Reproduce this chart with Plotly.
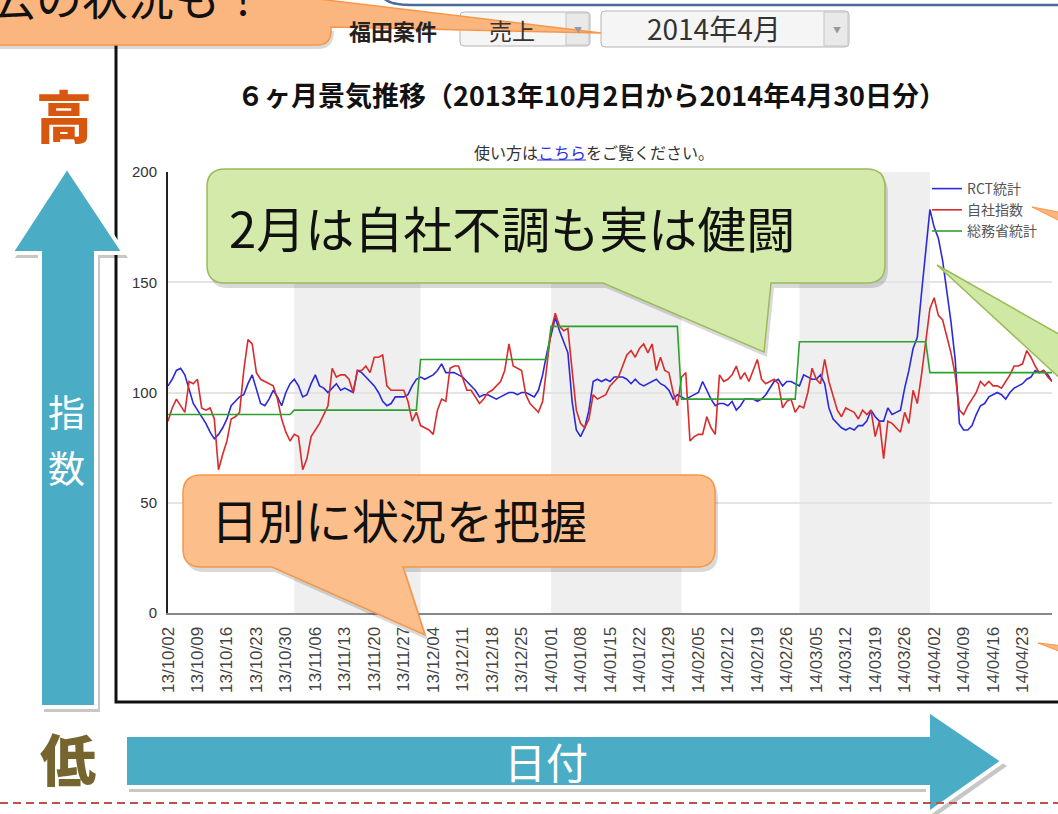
import plotly.graph_objects as go
import pandas as pd

# ---------------- data ----------------
dates = pd.date_range("2013-10-02", "2014-04-30", freq="D")

rct_values = [
    103, 106, 110, 111, 108, 101, 95, 92, 89, 86,
    82, 79, 81, 84, 88, 94, 96, 98, 99, 104,
    108, 101, 95, 94, 97, 101, 98, 94, 100, 104,
    106, 103, 98, 99, 104, 108, 103, 102, 100, 102,
    104, 101, 102, 101, 100, 110, 109, 107, 105, 103,
    100, 96, 94, 95, 98, 98, 98, 99, 103, 106,
    107, 106, 107, 108, 110, 113, 109, 109, 109, 108,
    107, 105, 103, 101, 98, 99, 99, 98, 97, 98,
    99, 100, 100, 99, 100, 100, 99, 98, 101, 108,
    118, 126, 134, 128, 123, 118, 96, 83, 80, 84,
    92, 105, 106, 105, 106, 105, 107, 107, 107, 106,
    104, 106, 104, 103, 104, 105, 106, 104, 103, 101,
    97, 99, 98, 97, 98, 99, 100, 105, 101, 97,
    94, 95, 95, 94, 96, 92, 94, 97, 97, 97,
    96, 97, 99, 102, 105, 106, 103, 105, 105, 104,
    103, 108, 107, 106, 106, 108, 104, 93, 88, 86,
    84, 83, 84, 83, 85, 85, 87, 92, 89, 87,
    87, 93, 90, 91, 92, 102, 110, 120, 125, 145,
    165, 183, 175, 170, 160, 146, 132, 115, 86, 83,
    83, 85, 90, 94, 95, 98, 99, 100, 99, 97,
    100, 102, 103, 104, 106, 107, 110, 109, 110, 108,
    105,
]

jisha_values = [
    87, 93, 97, 94, 91, 105, 104, 106, 93, 92,
    93, 88, 65, 72, 78, 88, 89, 91, 110, 124,
    122, 109, 106, 105, 104, 103, 97, 88, 82, 78,
    81, 80, 65, 70, 80, 83, 86, 90, 94, 111,
    107, 108, 108, 106, 100, 110, 110, 112, 109, 116,
    116, 117, 103, 101, 101, 101, 101, 96, 87, 91,
    85, 84, 83, 81, 92, 97, 96, 111, 112, 112,
    106, 101, 101, 98, 95, 97, 100, 101, 103, 105,
    110, 122, 112, 111, 110, 99, 95, 93, 91, 96,
    112, 128, 136, 130, 128, 129, 110, 92, 86, 84,
    88, 99, 97, 98, 99, 103, 105, 107, 112, 117,
    119, 116, 120, 122, 118, 122, 110, 116, 110, 109,
    100, 94, 107, 109, 78, 80, 81, 81, 89, 84,
    81, 108, 105, 106, 108, 112, 106, 109, 105, 110,
    115, 106, 104, 105, 106, 104, 93, 96, 97, 91,
    94, 93, 100, 111, 106, 104, 115, 105, 98, 92,
    89, 93, 92, 91, 88, 92, 90, 92, 80, 87,
    70, 87, 86, 84, 82, 91, 86, 101, 95, 108,
    124, 138, 143, 135, 133, 126, 118, 108, 92, 90,
    94, 97, 100, 105, 103, 105, 103, 103, 102, 105,
    108, 112, 112, 113, 119, 116, 112, 109, 110, 107,
    105,
]

soumu_months = ["2013-10", "2013-11", "2013-12", "2014-01", "2014-02", "2014-03", "2014-04"]
soumu_monthly = [90, 92, 115, 130, 97, 123, 109]
soumu_lookup = dict(zip(soumu_months, soumu_monthly))
soumu_values = [soumu_lookup[d.strftime("%Y-%m")] for d in dates]

series_names = ["RCT統計", "自社指数", "総務省統計"]
shaded_months = [("2013-11-01", "2013-12-01"), ("2014-01-01", "2014-02-01"), ("2014-03-01", "2014-04-01")]

title_text = "６ヶ月景気推移（2013年10月2日から2014年4月30日分）"

# ---------------- geometry helpers (figure pixels -> paper) ----------------
W, H = 1058, 814
L, R, T, B = 168, 1052, 172, 613
JP = "Noto Sans CJK JP"
LAT = "Liberation Sans"


def px(x):
    return (x - L) / (R - L)


def py(y):
    return (B - y) / (B - T)


def pt(x, y):
    return f"{px(x):.5f},{py(y):.5f}"


def poly(points):
    s = "M " + pt(*points[0])
    for p in points[1:]:
        s += " L " + pt(*p)
    return s + " Z"


def callout(x0, y0, x1, y1, r, tail=None, dx=0, dy=0):
    x0, x1, y0, y1 = x0 + dx, x1 + dx, y0 + dy, y1 + dy
    s = "M " + pt(x0 + r, y0)
    s += " L " + pt(x1 - r, y0)
    s += " Q " + pt(x1, y0) + " " + pt(x1, y0 + r)
    s += " L " + pt(x1, y1 - r)
    s += " Q " + pt(x1, y1) + " " + pt(x1 - r, y1)
    if tail:
        for (tx, ty) in tail:
            s += " L " + pt(tx + dx, ty + dy)
    s += " L " + pt(x0 + r, y1)
    s += " Q " + pt(x0, y1) + " " + pt(x0, y1 - r)
    s += " L " + pt(x0, y0 + r)
    s += " Q " + pt(x0, y0) + " " + pt(x0 + r, y0)
    return s + " Z"


def rrect(x0, y0, x1, y1, r):
    return callout(x0, y0, x1, y1, r)


fig = go.Figure()

line_colors = ["#2a2ad8", "#d92b2b", "#2ea02e"]
for name, vals, col in zip(series_names, [rct_values, jisha_values, soumu_values], line_colors):
    fig.add_trace(go.Scatter(x=dates, y=vals, mode="lines", name=name,
                             line=dict(color=col, width=1.6)))

shapes = []
# month shading
for a, b in shaded_months:
    shapes.append(dict(type="rect", xref="x", yref="paper", x0=a, x1=b, y0=0, y1=1,
                       fillcolor="#efefef", line=dict(width=0), layer="below"))

# chart frame (screenshot border)
shapes.append(dict(type="path", xref="paper", yref="paper",
                   path="M " + pt(116, 40) + " L " + pt(116, 702) + " L " + pt(1062, 702),
                   line=dict(color="#111111", width=3), layer="above"))
# blue top border
shapes.append(dict(type="path", xref="paper", yref="paper",
                   path="M " + pt(380, -6) + " Q " + pt(386, 5) + " " + pt(410, 5) + " L " + pt(1062, 5),
                   line=dict(color="#4a6898", width=2.5), layer="above"))

# dropdown boxes
for (x0, y0, x1, y1, xd) in [(460, 12, 590, 46, 566), (601, 11, 849, 47, 824)]:
    shapes.append(dict(type="path", xref="paper", yref="paper", path=rrect(x0, y0, x1, y1, 4),
                       fillcolor="#f5f5f5", line=dict(color="#b5b5b5", width=1), layer="above"))
    shapes.append(dict(type="rect", xref="paper", yref="paper", x0=px(xd), x1=px(x1 - 1),
                       y0=py(y1 - 1), y1=py(y0 + 1), fillcolor="#e9e9e9",
                       line=dict(color="#c5c5c5", width=1), layer="above"))

# top orange callout (mostly off the top edge)
top_pts = [(-20, -20), (160, -20), (601, 33), (331, 27), (331, 31)]
top_path = "M " + pt(*top_pts[0])
for p in top_pts[1:]:
    top_path += " L " + pt(*p)
top_path += " Q " + pt(331, 45) + " " + pt(317, 45) + " L " + pt(-20, 45) + " Z"
shadow_top = "M " + pt(-20, -20) + " L " + pt(334, 31) + " Q " + pt(334, 49) + " " + pt(318, 49) + " L " + pt(-20, 49) + " Z"
shapes.append(dict(type="path", xref="paper", yref="paper", path=shadow_top,
                   fillcolor="rgba(0,0,0,0.15)", line=dict(width=0), layer="above"))
shapes.append(dict(type="path", xref="paper", yref="paper", path=top_path,
                   fillcolor="#fbb680", line=dict(color="#f79646", width=1.5), layer="above"))

# green callout
g_tail = [(771, 283), (764, 352), (603, 283)]
shapes.append(dict(type="path", xref="paper", yref="paper",
                   path=callout(207, 169, 885, 283, 18, g_tail, dx=3, dy=5),
                   fillcolor="rgba(0,0,0,0.15)", line=dict(width=0), layer="above"))
shapes.append(dict(type="path", xref="paper", yref="paper",
                   path=callout(207, 169, 885, 283, 18, g_tail),
                   fillcolor="#d3eaab", line=dict(color="#9bbb59", width=1.5), layer="above"))
# green tail from an off-screen callout at right
shapes.append(dict(type="path", xref="paper", yref="paper",
                   path=poly([(937, 265), (1064, 337), (1064, 382)]),
                   fillcolor="#cfe8a4", line=dict(color="#9bbb59", width=1.5), layer="above"))

# orange callout
o_tail = [(403, 567), (425, 635), (272, 567)]
shapes.append(dict(type="path", xref="paper", yref="paper",
                   path=callout(183, 475, 715, 567, 18, o_tail, dx=3, dy=5),
                   fillcolor="rgba(0,0,0,0.15)", line=dict(width=0), layer="above"))
shapes.append(dict(type="path", xref="paper", yref="paper",
                   path=callout(183, 475, 715, 567, 18, o_tail),
                   fillcolor="#fcbf8c", line=dict(color="#f79646", width=1.5), layer="above"))
# small orange tails of off-screen callouts
shapes.append(dict(type="path", xref="paper", yref="paper",
                   path=poly([(1032, 207), (1064, 213), (1064, 223)]),
                   fillcolor="#fbb680", line=dict(color="#f79646", width=1), layer="above"))
shapes.append(dict(type="path", xref="paper", yref="paper",
                   path=poly([(1038, 643), (1064, 646), (1064, 653)]),
                   fillcolor="#fbb680", line=dict(color="#f79646", width=1), layer="above"))

# vertical blue arrow
v_arrow = [(67, 167), (124, 253), (96, 253), (96, 707), (40, 707), (40, 253), (11, 253)]
shapes.append(dict(type="path", xref="paper", yref="paper",
                   path=poly([(x + 4, y + 5) for x, y in v_arrow]),
                   fillcolor="rgba(0,0,0,0.22)", line=dict(width=0), layer="above"))
shapes.append(dict(type="path", xref="paper", yref="paper", path=poly(v_arrow),
                   fillcolor="#4bacc6", line=dict(color="white", width=4), layer="above"))

# horizontal blue arrow
h_arrow = [(125, 735), (928, 735), (928, 710), (1003, 761), (928, 814), (928, 787), (125, 787)]
shapes.append(dict(type="path", xref="paper", yref="paper",
                   path=poly([(x + 4, y + 5) for x, y in h_arrow]),
                   fillcolor="rgba(0,0,0,0.22)", line=dict(width=0), layer="above"))
shapes.append(dict(type="path", xref="paper", yref="paper", path=poly(h_arrow),
                   fillcolor="#4bacc6", line=dict(color="white", width=4), layer="above"))

# red dashed separator
shapes.append(dict(type="line", xref="paper", yref="paper", x0=px(0), x1=px(1060),
                   y0=py(803), y1=py(803), line=dict(color="#c0504d", width=2, dash="8px,5px"),
                   layer="above"))
# link underline
shapes.append(dict(type="line", xref="paper", yref="paper", x0=px(537), x1=px(586),
                   y0=py(160), y1=py(160), line=dict(color="#2b2be0", width=1), layer="above"))

annotations = []


def ann(x, y, text, size, color="#111", family=JP, weight=None, xanchor="center", yanchor="middle"):
    f = dict(size=size, color=color, family=family)
    if weight:
        f["weight"] = weight
    annotations.append(dict(xref="paper", yref="paper", x=px(x), y=py(y), text=text,
                            showarrow=False, font=f, xanchor=xanchor, yanchor=yanchor))


ann(591, 95, title_text, 27, "#111", weight=700)
ann(594, 152, "使い方は<span style='color:#2b2be0'>こちら</span>をご覧ください。", 16, "#333")
ann(393, 30, "福田案件", 22, "#222", weight=700)
ann(512, 30, "売上", 23, "#333")
ann(714, 28, "2014年4月", 28, "#333")
ann(578, 29, "▼", 8, "#999")
ann(837, 29, "▼", 8, "#999")
ann(268, -5, "過去の状況も！", 46, "#111", xanchor="right")
ann(512, 227, "2月は自社不調も実は健闘", 49, "#111")
ann(399, 518, "日別に状況を把握", 47, "#111")
ann(64, 114, "高", 56, "#d9560e", weight=900)
ann(68, 756, "低", 56, "#76652f", weight=900)
ann(66, 411, "指", 37, "white")
ann(66, 467, "数", 37, "white")
ann(546, 760, "日付", 42, "white")

fig.update_layout(
    width=W, height=H, autosize=False,
    margin=dict(l=L, r=W - R, t=T, b=H - B, pad=0),
    paper_bgcolor="white", plot_bgcolor="white",
    font=dict(family=JP),
    showlegend=True,
    legend=dict(x=px(927), y=py(173), xanchor="left", yanchor="top",
                bgcolor="rgba(0,0,0,0)", font=dict(size=14, color="#555", family=JP),
                itemwidth=30, tracegroupgap=0),
    xaxis=dict(type="date", range=[dates[0], dates[-1]], tickmode="linear",
               tick0="2013-10-02", dtick=7 * 86400000, tickformat="%y/%m/%d",
               tickangle=-90, showgrid=False, zeroline=False, showline=True,
               linecolor="#888", linewidth=2, ticks="", ticklabelstandoff=5,
               tickfont=dict(size=17, color="#444", family=LAT)),
    yaxis=dict(range=[0, 200], tickvals=[0, 50, 100, 150, 200], showgrid=True,
               gridcolor="#e4e4e4", gridwidth=2, zeroline=False, showline=True,
               linecolor="#222", linewidth=2, ticks="", ticklabelstandoff=6,
               tickfont=dict(size=15, color="#333", family=LAT)),
    shapes=shapes,
    annotations=annotations,
)

fig.write_html("out.html", config={"displayModeBar": False},
               post_script="document.body.style.margin='0';document.body.style.overflow='hidden';")
